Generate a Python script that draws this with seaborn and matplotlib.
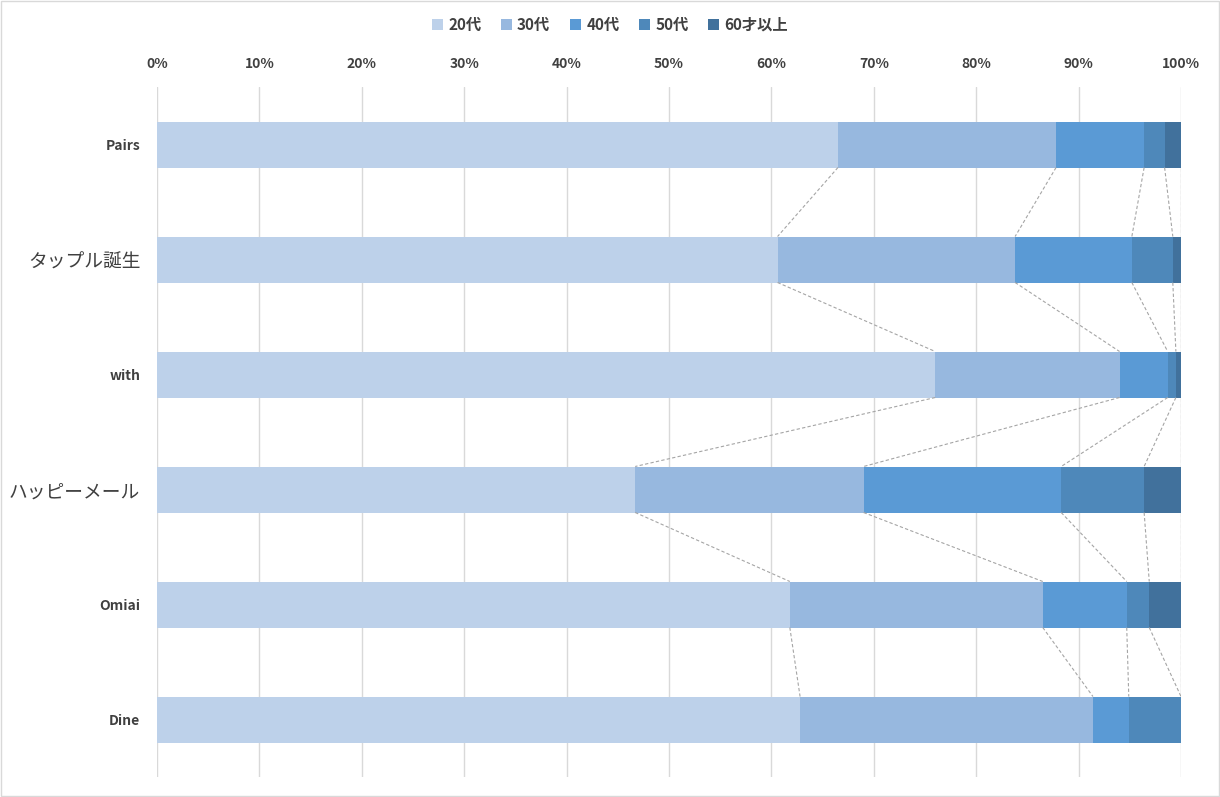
import numpy as np
import pandas as pd
import matplotlib
matplotlib.use("Agg")
import matplotlib.pyplot as plt
import seaborn as sns
from matplotlib.patches import Rectangle, Patch

apps = ["Pairs", "タップル誕生", "with", "ハッピーメール", "Omiai", "Dine"]
age_groups = ["20代", "30代", "40代", "50代", "60才以上"]
age20 = [66.5, 60.6, 76.0, 46.7, 61.8, 62.8]
age30 = [21.3, 23.2, 18.0, 22.3, 24.7, 28.6]
age40 = [8.6, 11.4, 4.7, 19.3, 8.2, 3.5]
age50 = [2.0, 4.0, 0.8, 8.1, 2.2, 5.1]
age60 = [1.6, 0.8, 0.5, 3.6, 3.1, 0.0]
tick_labels = [f"{v}%" for v in range(0, 101, 10)]
colors = ["#BDD1EA", "#97B8DF", "#5A9AD5", "#4E88BA", "#41719C"]

sns.set_theme(style="white")
plt.rcParams['font.family'] = ['Noto Sans CJK JP', 'DejaVu Sans']

series = [age20, age30, age40, age50, age60]
vals = np.array(series, dtype=float)
tot = vals.sum(axis=0)
vals = vals / tot * 100
cum = np.cumsum(vals, axis=0)

fig = plt.figure(figsize=(12.2, 7.97), dpi=100)
ax = fig.add_axes([157/1220, 1 - 777/797, 1024/1220, 690/797])

for k in range(len(age_groups) - 1, -1, -1):
    df = pd.DataFrame({"app": apps, "value": cum[k]})
    sns.barplot(data=df, x="value", y="app", order=apps, color=colors[k],
                orient="h", width=0.4, ax=ax, saturation=1, edgecolor="none",
                linewidth=0)

# series lines
h = 0.2
for k in range(len(age_groups)):
    for i in range(len(apps) - 1):
        ax.plot([cum[k][i], cum[k][i + 1]], [i + h, i + 1 - h],
                color="#A5A5A5", lw=0.8, ls=(0, (3, 2)), zorder=1)

ax.set_xlim(0, 100)
ax.set_ylim(len(apps) - 0.5, -0.5)
ax.set_xticks(range(0, 101, 10))
ax.set_xticklabels(tick_labels)
ax.xaxis.tick_top()
ax.tick_params(axis="x", length=0, pad=11.5, labelsize=10, labelcolor="#404040")
ax.tick_params(axis="y", length=0, pad=12, labelcolor="#404040")
for lab in ax.get_xticklabels():
    lab.set_fontweight("bold")
for lab, name in zip(ax.get_yticklabels(), apps):
    if name.isascii():
        lab.set_fontsize(10)
        lab.set_fontweight("bold")
    else:
        lab.set_fontsize(13.5)
ax.set_xlabel("")
ax.set_ylabel("")
ax.grid(axis="x", color="#D9D9D9", lw=1)
ax.set_axisbelow(True)
for s in ax.spines.values():
    s.set_visible(False)

handles = [Patch(facecolor=c, edgecolor="none") for c in colors]
leg = fig.legend(handles, age_groups, loc="center", bbox_to_anchor=(0.5, 1 - 25/797),
                 ncol=5, frameon=False, fontsize=11, handlelength=0.7,
                 handleheight=0.7, handletextpad=0.35, columnspacing=1.3)
for t in leg.get_texts():
    t.set_color("#404040")
    t.set_fontweight("bold")

fig.patches.append(Rectangle((0.001, 0.001), 0.998, 0.998, transform=fig.transFigure,
                             fill=False, edgecolor="#D9D9D9", lw=1))
fig.savefig("out.png", dpi=100)
